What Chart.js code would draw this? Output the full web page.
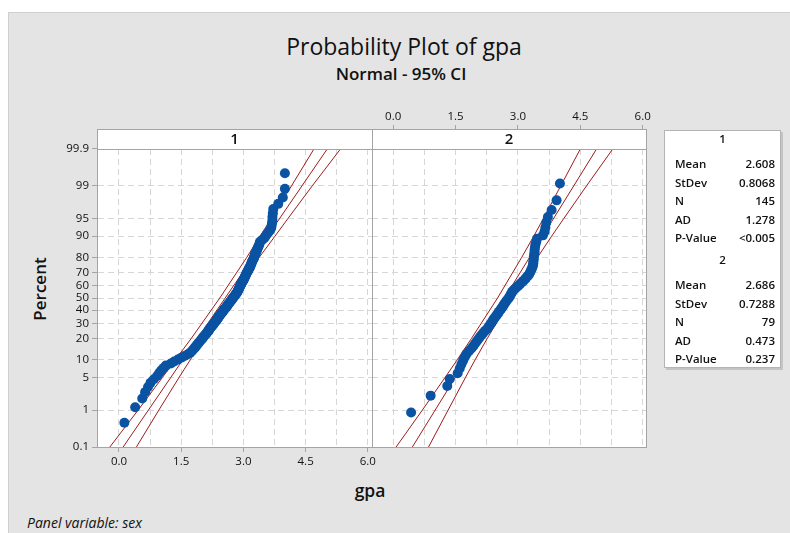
<!DOCTYPE html>
<html>
<head>
<meta charset="utf-8">
<script src="https://cdn.jsdelivr.net/npm/chart.js@4/dist/chart.umd.min.js"></script>
<style>
  body { margin: 0; background: #fff; font-family: "Open Sans", "Noto Sans", sans-serif; }
  #page { position: relative; width: 790px; height: 533px; overflow: hidden; background: #fff; }
  #bg { position: absolute; left: 8px; top: 12px; right: 0; bottom: 0; background: #e4e4e4; border-left: 1px solid #cfcfcf; border-top: 1px solid #cfcfcf; }
  .abs { position: absolute; white-space: nowrap; color: #111; }
  #title { left: 0; width: 808px; top: 30px; text-align: center; font-size: 23px; font-weight: 500; }
  #subtitle { left: 0; width: 802px; top: 62px; text-align: center; font-size: 17px; font-weight: 600; }
  #ylab { left: 39px; top: 289px; transform: translate(-50%, -50%) rotate(-90deg); font-size: 17px; font-weight: 600; }
  #xlab { left: 370px; top: 490px; transform: translate(-50%, -50%); font-size: 17.5px; font-weight: 600; }
  #panelvar { left: 27px; top: 513px; font-size: 14px; font-style: italic; }
  .wrap { position: absolute; }
  #legend { position: absolute; left: 664px; top: 130px; width: 115px; height: 236px; background: #fff; border: 1px solid #b4b4b4; box-shadow: 2px 2px 0 #c4c4c4; }
  .lrow { position: absolute; left: 0; width: 100%; font-size: 11.5px; font-weight: 600; color: #111; line-height: 16px; }
  .lrow .k { position: absolute; left: 10px; }
  .lrow .v { position: absolute; right: 5px; }
  .lrow.head { text-align: center; }
</style>
</head>
<body>
<div id="page">
  <div id="bg"></div>
  <div id="title" class="abs">Probability Plot of gpa</div>
  <div id="subtitle" class="abs">Normal - 95% CI</div>
  <div id="ylab" class="abs">Percent</div>
  <div id="xlab" class="abs">gpa</div>
  <div id="panelvar" class="abs">Panel variable: sex</div>
  <div class="wrap" style="left:40px;top:100px;width:340px;height:380px"><canvas id="c1"></canvas></div>
  <div class="wrap" style="left:340px;top:100px;width:330px;height:380px"><canvas id="c2"></canvas></div>
  <div id="legend"></div>
</div>
<script>
// panel names (sex)
const panels = ['1', '2'];

// sorted gpa values
const gpa1 = [
  0.13, 0.39, 0.56, 0.63, 0.70, 0.76, 0.84, 0.92, 0.97, 1.02,
  1.08, 1.13, 1.25, 1.33, 1.42, 1.50, 1.58, 1.66, 1.72, 1.76,
  1.79, 1.82, 1.85, 1.87, 1.90, 1.92, 1.95, 1.97, 2.00, 2.02,
  2.04, 2.06, 2.09, 2.11, 2.13, 2.15, 2.17, 2.18, 2.20, 2.22,
  2.24, 2.26, 2.28, 2.29, 2.31, 2.33, 2.35, 2.36, 2.38, 2.39,
  2.41, 2.42, 2.44, 2.45, 2.47, 2.49, 2.50, 2.52, 2.53, 2.55,
  2.57, 2.58, 2.60, 2.61, 2.63, 2.64, 2.66, 2.67, 2.69, 2.70,
  2.72, 2.73, 2.75, 2.76, 2.78, 2.79, 2.81, 2.82, 2.84, 2.85,
  2.86, 2.87, 2.88, 2.89, 2.90, 2.91, 2.92, 2.93, 2.94, 2.95,
  2.96, 2.97, 2.99, 3.00, 3.01, 3.02, 3.03, 3.04, 3.05, 3.06,
  3.07, 3.08, 3.10, 3.11, 3.12, 3.13, 3.15, 3.16, 3.17, 3.18,
  3.19, 3.20, 3.21, 3.22, 3.24, 3.25, 3.26, 3.27, 3.28, 3.29,
  3.31, 3.32, 3.33, 3.35, 3.36, 3.38, 3.39, 3.40, 3.45, 3.50,
  3.53, 3.56, 3.60, 3.64, 3.67, 3.68, 3.69, 3.70, 3.70, 3.71,
  3.72, 3.84, 3.95, 4.00, 4.00
];
const gpa2 = [
  0.43, 0.90, 1.30, 1.36, 1.55, 1.60, 1.64, 1.68, 1.72, 1.76,
  1.82, 1.88, 1.93, 1.97, 2.01, 2.05, 2.09, 2.13, 2.17, 2.21,
  2.26, 2.29, 2.32, 2.35, 2.38, 2.40, 2.43, 2.46, 2.49, 2.52,
  2.54, 2.57, 2.60, 2.62, 2.65, 2.67, 2.70, 2.72, 2.75, 2.78,
  2.80, 2.82, 2.84, 2.86, 2.89, 2.93, 2.97, 3.01, 3.05, 3.09,
  3.13, 3.17, 3.20, 3.24, 3.27, 3.29, 3.31, 3.33, 3.35, 3.36,
  3.37, 3.37, 3.38, 3.38, 3.39, 3.40, 3.40, 3.41, 3.42, 3.44,
  3.46, 3.60, 3.64, 3.66, 3.68, 3.72, 3.81, 3.93, 4.01
];

// fitted line and 95% CI band, gpa at these percents
const bandPercents = [0.1, 1, 5, 10, 20, 50, 80, 90, 95, 99, 99.9];
const lower1 = [-0.22, 0.46, 1.05, 1.36, 1.74, 2.43, 3.08, 3.40, 3.67, 4.16, 4.70];
const upper1 = [0.42, 0.96, 1.45, 1.72, 2.04, 2.69, 3.38, 3.76, 4.07, 4.66, 5.34];
const lower2 = [0.07, 0.70, 1.25, 1.54, 1.88, 2.51, 3.09, 3.38, 3.61, 4.03, 4.50];
const upper2 = [0.85, 1.32, 1.74, 1.97, 2.26, 2.84, 3.47, 3.81, 4.10, 4.65, 5.28];
const fitPercents = [0.1, 99.9];
const fit1 = [0.10, 5.02];
const fit2 = [0.46, 4.89];

// axis ticks
const yTickPercents = [0.1, 1, 5, 10, 20, 30, 40, 50, 60, 70, 80, 90, 95, 99, 99.9];
const yTickLabels = ['0.1', '1', '5', '10', '20', '30', '40', '50', '60', '70', '80', '90', '95', '99', '99.9'];
const xGridValues = [0, 0.75, 1.5, 2.25, 3, 3.75, 4.5, 5.25, 6];
const xLabelValues = [0, 1.5, 3, 4.5, 6];
const xTickLabels = ['0.0', '1.5', '3.0', '4.5', '6.0'];

// legend table
const statNames = ['Mean', 'StDev', 'N', 'AD', 'P-Value'];
const stats1 = ['2.608', '0.8068', '145', '1.278', '<0.005'];
const stats2 = ['2.686', '0.7288', '79', '0.473', '0.237'];

const FONT = '"Open Sans", "Noto Sans", sans-serif';
const gridColor = '#d6d6d6';
const axisColor = '#a4a4a4';
const dotColor = '#0a53a3';
const lineColor = '#9e1c1c';

// inverse normal cdf (Acklam) - the probability scale
function probit(p) {
  const a = [-3.969683028665376e+01, 2.209460984245205e+02, -2.759285104469687e+02, 1.383577518672690e+02, -3.066479806614716e+01, 2.506628277459239e+00];
  const b = [-5.447609879822406e+01, 1.615858368580409e+02, -1.556989798598866e+02, 6.680131188771972e+01, -1.328068155288572e+01];
  const c = [-7.784894002430293e-03, -3.223964580411365e-01, -2.400758277161838e+00, -2.549671348283599e+00, 4.374664141464968e+00, 2.938163982698783e+00];
  const d = [7.784695709041462e-03, 3.224671290700398e-01, 2.445134137142996e+00, 3.754408661907416e+00];
  const pl = 0.02425;
  let q, r;
  if (p < pl) {
    q = Math.sqrt(-2 * Math.log(p));
    return (((((c[0]*q+c[1])*q+c[2])*q+c[3])*q+c[4])*q+c[5]) / ((((d[0]*q+d[1])*q+d[2])*q+d[3])*q+1);
  }
  if (p > 1 - pl) {
    q = Math.sqrt(-2 * Math.log(1 - p));
    return -(((((c[0]*q+c[1])*q+c[2])*q+c[3])*q+c[4])*q+c[5]) / ((((d[0]*q+d[1])*q+d[2])*q+d[3])*q+1);
  }
  q = p - 0.5; r = q * q;
  return (((((a[0]*r+a[1])*r+a[2])*r+a[3])*r+a[4])*r+a[5])*q / (((((b[0]*r+b[1])*r+b[2])*r+b[3])*r+b[4])*r+1);
}

const zMin = probit(0.001);
const zMax = probit(0.999);

// median rank plotting positions, like Minitab
function rankPoints(vals) {
  const n = vals.length;
  return vals.map((v, i) => ({ x: v, y: probit((i + 1 - 0.3) / (n + 0.4)) }));
}
function pctPoints(pcts, vals) {
  return pcts.map((p, i) => ({ x: vals[i], y: probit(p / 100) }));
}

// white plot area, header strip with the panel name, gray frame
const panelFrame = {
  id: 'panelFrame',
  beforeDraw(chart) {
    const { ctx, chartArea: a } = chart;
    ctx.save();
    ctx.fillStyle = '#fff';
    ctx.fillRect(a.left, a.top, a.right - a.left, a.bottom - a.top);
    ctx.restore();
  },
  afterDraw(chart, args, opts) {
    const { ctx, chartArea: a } = chart;
    const h = 20;
    ctx.save();
    ctx.fillStyle = '#fff';
    ctx.fillRect(a.left, a.top - h, a.right - a.left, h);
    ctx.strokeStyle = axisColor;
    ctx.lineWidth = 1;
    ctx.strokeRect(Math.round(a.left) + 0.5, Math.round(a.top - h) + 0.5, Math.round(a.right - a.left), Math.round(a.bottom - a.top + h));
    ctx.beginPath();
    ctx.moveTo(a.left, Math.round(a.top) + 0.5);
    ctx.lineTo(a.right, Math.round(a.top) + 0.5);
    ctx.stroke();
    ctx.fillStyle = '#111';
    ctx.font = '600 15px ' + FONT;
    ctx.textAlign = 'center';
    ctx.textBaseline = 'middle';
    ctx.fillText(opts.label, (a.left + a.right) / 2, a.top - h / 2 + 1);
    ctx.restore();
  }
};

function datasets(vals, lower, upper, fit) {
  const lineStyle = { type: 'line', borderColor: lineColor, borderWidth: 1, pointRadius: 0, fill: false, order: 2 };
  return [
    { type: 'scatter', data: rankPoints(vals), backgroundColor: dotColor, borderColor: dotColor, borderWidth: 0, pointRadius: 5, order: 1 },
    Object.assign({ data: pctPoints(bandPercents, lower) }, lineStyle),
    Object.assign({ data: pctPoints(bandPercents, upper) }, lineStyle),
    Object.assign({ data: pctPoints(fitPercents, fit) }, lineStyle)
  ];
}

function xGridAxis(min, max, showLabels) {
  return {
    type: 'linear', min: min, max: max,
    afterBuildTicks: s => { s.ticks = xGridValues.map(v => ({ value: v })); },
    afterFit: s => { s.height = 33; },
    ticks: {
      autoSkip: false, maxRotation: 0, padding: 3, color: '#111',
      font: { family: FONT, size: 11.5 },
      callback: v => showLabels && xLabelValues.includes(v) ? xTickLabels[xLabelValues.indexOf(v)] : ''
    },
    grid: {
      color: gridColor, tickLength: 5, drawTicks: showLabels,
      tickColor: c => (c.tick && xLabelValues.includes(c.tick.value)) ? axisColor : 'rgba(0,0,0,0)'
    },
    border: { dash: [6, 4], color: axisColor }
  };
}

function yAxis(showLabels) {
  return {
    type: 'linear', min: zMin, max: zMax,
    afterBuildTicks: s => { s.ticks = yTickPercents.map(p => ({ value: probit(p / 100) })); },
    afterFit: s => { s.width = showLabels ? 57 : 0; },
    ticks: {
      display: showLabels, autoSkip: false, padding: 3, color: '#111',
      font: { family: FONT, size: 11.5 },
      callback: (v, i) => yTickLabels[i]
    },
    grid: { color: gridColor, tickLength: 5, tickColor: axisColor, drawTicks: showLabels },
    border: { dash: [6, 4], color: axisColor, display: showLabels }
  };
}

const common = {
  responsive: true, maintainAspectRatio: false, animation: false,
  plugins: { legend: { display: false }, tooltip: { enabled: false } }
};

// left panel
new Chart(document.getElementById('c1'), {
  data: { datasets: datasets(gpa1, lower1, upper1, fit1) },
  options: Object.assign({}, common, {
    layout: { padding: { left: 0, top: 49, right: 8, bottom: 0 } },
    plugins: Object.assign({}, common.plugins, { panelFrame: { label: panels[0] } }),
    scales: { x: xGridAxis(-0.53, 6.10, true), y: yAxis(true) }
  }),
  plugins: [panelFrame]
});

// right panel, its labels are on the top axis
const topAxis = {
  type: 'linear', position: 'top', min: -0.51, max: 6.08,
  afterBuildTicks: s => { s.ticks = xLabelValues.map(v => ({ value: v })); },
  afterFit: s => { s.height = 49; },
  ticks: {
    autoSkip: false, maxRotation: 0, padding: 1, color: '#111',
    font: { family: FONT, size: 11.5 },
    callback: (v, i) => xTickLabels[i]
  },
  grid: { drawOnChartArea: false, tickLength: 24, tickColor: axisColor },
  border: { display: false }
};

new Chart(document.getElementById('c2'), {
  data: { datasets: datasets(gpa2, lower2, upper2, fit2) },
  options: Object.assign({}, common, {
    layout: { padding: { left: 32, top: 0, right: 24, bottom: 0 } },
    plugins: Object.assign({}, common.plugins, { panelFrame: { label: panels[1] } }),
    scales: { x: xGridAxis(-0.51, 6.08, false), xt: topAxis, y: yAxis(false) }
  }),
  plugins: [panelFrame]
});

// stats box on the right
const legend = document.getElementById('legend');
function addRow(y, key, val) {
  const row = document.createElement('div');
  row.className = 'lrow' + (val === undefined ? ' head' : '');
  row.style.top = (y - 8) + 'px';
  if (val === undefined) {
    row.textContent = key;
  } else {
    row.innerHTML = '<span class="k"></span><span class="v"></span>';
    row.children[0].textContent = key;
    row.children[1].textContent = val;
  }
  legend.appendChild(row);
}
[[stats1, 8], [stats2, 129]].forEach(([vals, y0], g) => {
  addRow(y0, panels[g]);
  statNames.forEach((name, k) => addRow(y0 + 25 + k * 18.5, name, vals[k]));
});
</script>
</body>
</html>
